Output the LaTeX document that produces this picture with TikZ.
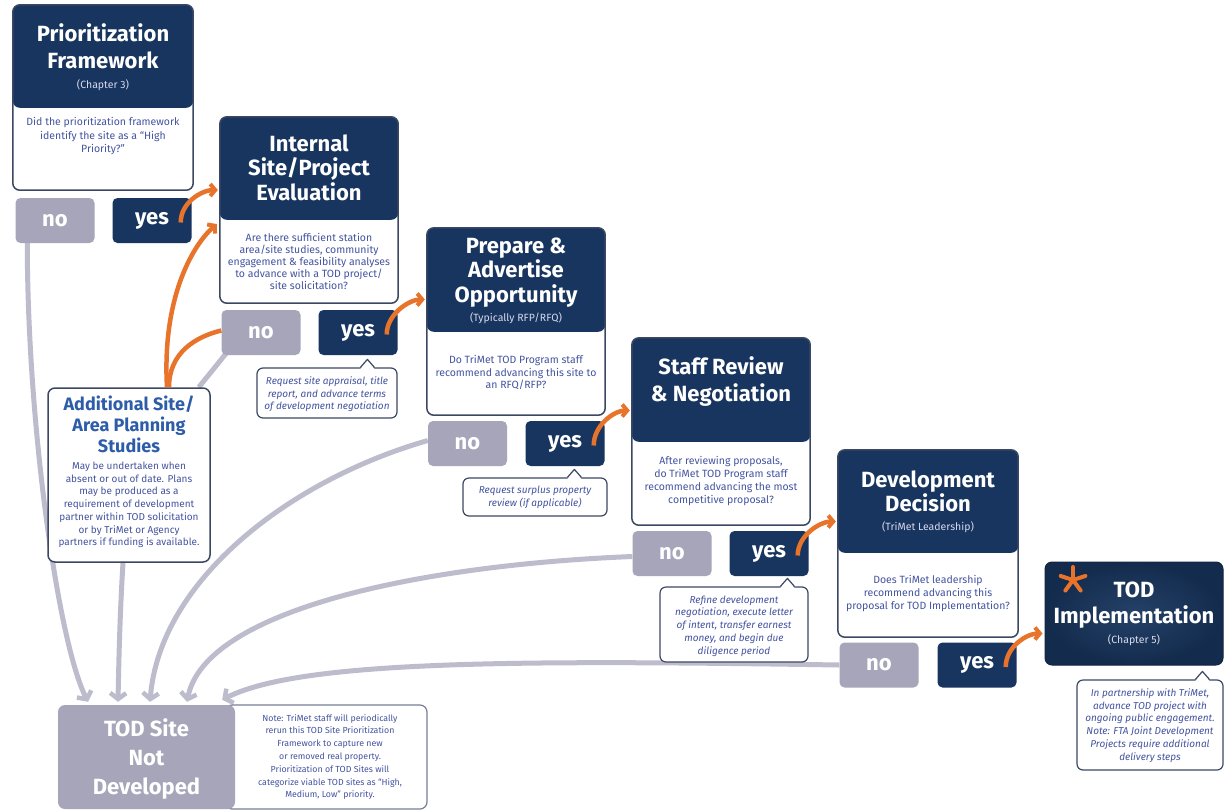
\documentclass[tikz,border=0pt]{standalone}
\usepackage{fontspec}
\setmainfont{Fira Sans}
\usetikzlibrary{arrows.meta,calc}
\pgfdeclarelayer{background}
\pgfsetlayers{background,main}
\definecolor{navy}{HTML}{17355E}
\definecolor{nogray}{HTML}{A6A5B9}
\definecolor{linegray}{HTML}{BDBCCC}
\definecolor{orng}{HTML}{E8732A}
\definecolor{bodyblue}{HTML}{4454A0}
\definecolor{addblue}{HTML}{2D5CA8}
\definecolor{edge}{HTML}{3B4763}
\definecolor{subwhite}{HTML}{D8D9EE}
\tikzset{
  cardbox/.style={fill=white, rounded corners=7pt, inner sep=0pt},
  cardedge/.style={draw=edge, line width=1.5pt, rounded corners=7pt},
  head/.style={fill=navy, rounded corners=7pt},
  btn/.style={rounded corners=5pt, minimum width=79pt, minimum height=45pt, inner sep=0pt, text=white, font=\fontsize{22}{22}\selectfont\bfseries},
  yesbtn/.style={btn, fill=navy},
  nobtn/.style={btn, fill=nogray},
  ttl/.style={text=white, font=\fontsize{22}{25}\selectfont\bfseries, align=center, inner sep=0pt},
  subt/.style={text=subwhite, font=\fontsize{10.5}{11}\selectfont, inner sep=0pt},
  body/.style={text=bodyblue, font=\fontsize{10.5}{12.8}\selectfont, align=center, inner sep=0pt},
  callbox/.style={draw=edge, line width=1.2pt, fill=white, rounded corners=6pt, inner sep=0pt},
  calltxt/.style={text=bodyblue, font=\fontsize{10}{12.8}\selectfont\itshape, align=center, inner sep=0pt},
  oarrow/.style={draw=orng, line width=4.5pt, -{Straight Barb[length=5pt,width=12pt,line width=4pt]}},
  oline/.style={draw=orng, line width=4.5pt},
  garrow/.style={draw=linegray, line width=5pt, -{Straight Barb[length=6pt,width=16pt,line width=4.5pt]}},
  gline/.style={draw=linegray, line width=5pt},
  ptrfill/.style={fill=white},
  ptredge/.style={draw=edge, line width=1.2pt, line join=round}
}
\newcommand\mkcard[6]{%
  \node[cardbox, minimum width=#4pt, minimum height=#5pt] (#1) at (#2,#3) {};
  \fill[head] (#1.north west) rectangle ($(#1.north east)+(0,-#6)$);
  \draw[cardedge] (#1.north west) rectangle (#1.south east);}
\newcommand\callptr[1]{%
  \fill[ptrfill] ($(#1)+(-7,-1.5)$) -- ($(#1)+(0,8)$) -- ($(#1)+(7,-1.5)$) -- cycle;
  \draw[ptredge] ($(#1)+(-7,0)$) -- ($(#1)+(0,8)$) -- ($(#1)+(7,0)$);}
\begin{document}
\begin{tikzpicture}[x=1pt,y=1pt]
\useasboundingbox (0,0) rectangle (1225,-811);
\begin{pgfonlayer}{background}
\fill[white] (0,0) rectangle (1225,-811);
\end{pgfonlayer}

% ---------- cards ----------
\mkcard{c1}{103}{-97.5}{180}{185}{103}
\node[ttl, font=\fontsize{22}{27}\selectfont\bfseries] (t1) at (103,-46.5) {Prioritization\\Framework};
\node[subt] (s1) at (103,-85) {(Chapter 3)};
\node[body, font=\fontsize{10.5}{13.5}\selectfont] (b1) at (103,-136.5) {Did the prioritization framework\\identify the site as a “High\\Priority?”};

\mkcard{c2}{309}{-210}{178}{186}{103}
\node[ttl, font=\fontsize{22}{24.5}\selectfont\bfseries] (t2) at (309,-167.5) {Internal\\Site/Project\\Evaluation};
\node[body, font=\fontsize{10.5}{12}\selectfont] (b2) at (309,-261) {Are there sufficient station\\area/site studies, community\\engagement \& feasibility analyses\\to advance with a TOD project/\\site solicitation?};

\mkcard{c3}{516}{-321.5}{178}{187}{104}
\node[ttl, font=\fontsize{22}{24.5}\selectfont\bfseries] (t3) at (516,-272.5) {Prepare \&\\Advertise\\Opportunity};
\node[subt] (s3) at (516,-318) {(Typically RFP/RFQ)};
\node[body] (b3) at (516,-372.5) {Do TriMet TOD Program staff\\recommend advancing this site to\\an RFQ/RFP?};

\mkcard{c4}{721}{-431.5}{178}{187}{104}
\node[ttl, font=\fontsize{22}{27}\selectfont\bfseries] (t4) at (721,-381.5) {Staff Review\\\& Negotiation};
\node[body] (b4) at (721,-481) {After reviewing proposals,\\do TriMet TOD Program staff\\recommend advancing the most\\competitive proposal?};

\mkcard{c5}{928}{-543.5}{180}{187}{103}
\node[ttl, font=\fontsize{22}{24}\selectfont\bfseries] (t5) at (928,-491.5) {Development\\Decision};
\node[subt] (s5) at (928,-527) {(TriMet Leadership)};
\node[body] (b5) at (928,-593.5) {Does TriMet leadership\\recommend advancing this\\proposal for TOD Implementation?};

% TOD implementation
\node[rounded corners=7pt, inner color=navy!94!white, outer color=navy!82!black, draw=navy!70!black, line width=1pt, minimum width=178pt, minimum height=103pt, inner sep=0pt] (c6) at (1134,-613.5) {};
\node[ttl, font=\fontsize{22}{26}\selectfont\bfseries] (t6) at (1134,-605) {TOD\\Implementation};
\node[subt] (s6) at (1134,-640) {(Chapter 5)};
\foreach \a in {90,162,234,306,18}
  \draw[orng, line width=4pt, line cap=round] (1073,-580) -- ++(\a:13);

% ---------- buttons ----------
\node[nobtn] (no1) at (55,-220.5) {no};
\node[yesbtn] (yes1) at (152,-220.5) {yes};
\node[nobtn] (no2) at (261,-332.5) {no};
\node[yesbtn] (yes2) at (358,-332.5) {yes};
\node[nobtn] (no3) at (467.5,-443.5) {no};
\node[yesbtn] (yes3) at (565,-443.5) {yes};
\node[nobtn] (no4) at (672,-553.5) {no};
\node[yesbtn] (yes4) at (769,-553.5) {yes};
\node[nobtn] (no5) at (879,-665) {no};
\node[yesbtn] (yes5) at (977,-665) {yes};

% ---------- callouts ----------
\node[callbox, minimum width=140pt, minimum height=50pt] (k1) at (327,-393) {};
\coordinate (p1) at ($(k1.north west)+(111,0)$);
\callptr{p1}
\node[calltxt, font=\fontsize{10}{12.5}\selectfont\itshape] (k1t) at (327,-394.5) {Request site appraisal, title\\report, and advance terms\\of development negotiation};

\node[callbox, minimum width=144pt, minimum height=38pt] (k2) at (535,-497) {};
\coordinate (p2) at ($(k2.north west)+(112,0)$);
\callptr{p2}
\node[calltxt] (k2t) at (535,-497.5) {Request surplus property\\review (if applicable)};

\node[callbox, minimum width=148pt, minimum height=75pt] (k3) at (734,-624.5) {};
\coordinate (p3) at ($(k3.north west)+(128,0)$);
\callptr{p3}
\node[calltxt] (k3t) at (734,-626) {Refine development\\negotiation, execute letter\\of intent, transfer earnest\\money, and begin due\\diligence period};

\node[callbox, minimum width=146pt, minimum height=90pt] (k4) at (1150,-725) {};
\coordinate (p4) at ($(k4.north west)+(126,0)$);
\callptr{p4}
\node[calltxt] (k4t) at (1150,-725.5) {In partnership with TriMet,\\advance TOD project with\\ongoing public engagement.\\Note: FTA Joint Development\\Projects require additional\\delivery steps};

% ---------- additional studies ----------
\node[cardbox, draw=edge, line width=1.5pt, minimum width=162pt, minimum height=174pt] (add) at (129,-475) {};
\node[text=addblue, font=\fontsize{18}{21}\selectfont\bfseries, align=center, inner sep=0pt] (addt) at (129,-424.5) {Additional Site/\\Area Planning\\Studies};
\node[body, font=\fontsize{10}{12.7}\selectfont] (addb) at (129,-505) {May be undertaken when\\absent or out of date. Plans\\may be produced as a\\requirement of development\\partner within TOD solicitation\\or by TriMet or Agency\\partners if funding is available.};

% ---------- TOD site not developed ----------
\node[draw=edge!70!white, line width=1.2pt, fill=white, rounded corners=7pt, minimum width=202pt, minimum height=104pt, inner sep=0pt] (note) at (326,-757) {};
\node[fill=nogray, rounded corners=7pt, minimum width=177pt, minimum height=104pt, inner sep=0pt] (tod) at (146.5,-757) {};
\node[ttl, font=\fontsize{22}{29}\selectfont\bfseries] (todt) at (146.5,-759) {TOD Site\\Not\\Developed};
\node[body, font=\fontsize{8.8}{12.8}\selectfont] (notet) at (330,-757) {Note: TriMet staff will periodically\\rerun this TOD Site Prioritization\\Framework to capture new\\or removed real property.\\Prioritization of TOD Sites will\\categorize viable TOD sites as “High,\\Medium, Low” priority.};

% ---------- gray connectors (behind) ----------
\begin{pgfonlayer}{background}
\draw[garrow] ($(no1.south west)+(12,0)$) .. controls +(0,-180) and +(-30,60) .. ($(tod.north)+(-58.5,3)$);
\draw[gline] ($(no2.south west)+(5,2)$) -- ($(add.north east)+(-12,0)$);
\draw[garrow] ($(add.south)+(-6,0)$) .. controls +(-3,-50) and +(1,50) .. ($(tod.north)+(-28.5,3)$);
\draw[garrow] ($(no3.west)+(0,3)$) .. controls (290,-480) and (160,-580) .. ($(tod.north)+(3.5,3)$);
\draw[garrow] ($(no4.west)+(0,-3)$) .. controls (420,-565) and (205,-610) .. ($(tod.north)+(40.5,3)$);
\draw[garrow] (no5.west) .. controls (520,-660) and (300,-660) .. ($(tod.north east)+(-13,5)$);
\end{pgfonlayer}

% ---------- orange connectors ----------
\draw[oarrow] ($(yes1.east)+(-11,-2)$) .. controls +(0,20) and +(-16,0) .. ($(c2.west)+(-2,20)$);
\draw[oarrow] ($(add.north)+(38,0)$) .. controls +(-5,88) and +(-25,-22) .. ($(c2.west)+(-3,-14)$);
\draw[oline] ($(no2.west)+(0,2)$) .. controls +(-25,-6) and +(0,35) .. ($(add.north)+(40,0)$);
\draw[oarrow] ($(yes2.east)+(-11,-2)$) .. controls +(0,20) and +(-16,0) .. ($(c3.west)+(-2,22)$);
\draw[oarrow] ($(yes3.east)+(-11,-2)$) .. controls +(0,20) and +(-16,0) .. ($(c4.west)+(-2,21)$);
\draw[oarrow] ($(yes4.east)+(-11,-2)$) .. controls +(0,20) and +(-16,0) .. ($(c5.west)+(-2,22)$);
\draw[oarrow] ($(yes5.east)+(-11,-2)$) .. controls +(0,20) and +(-16,0) .. ($(c6.west)+(-2,-20)$);
\end{tikzpicture}
\end{document}
